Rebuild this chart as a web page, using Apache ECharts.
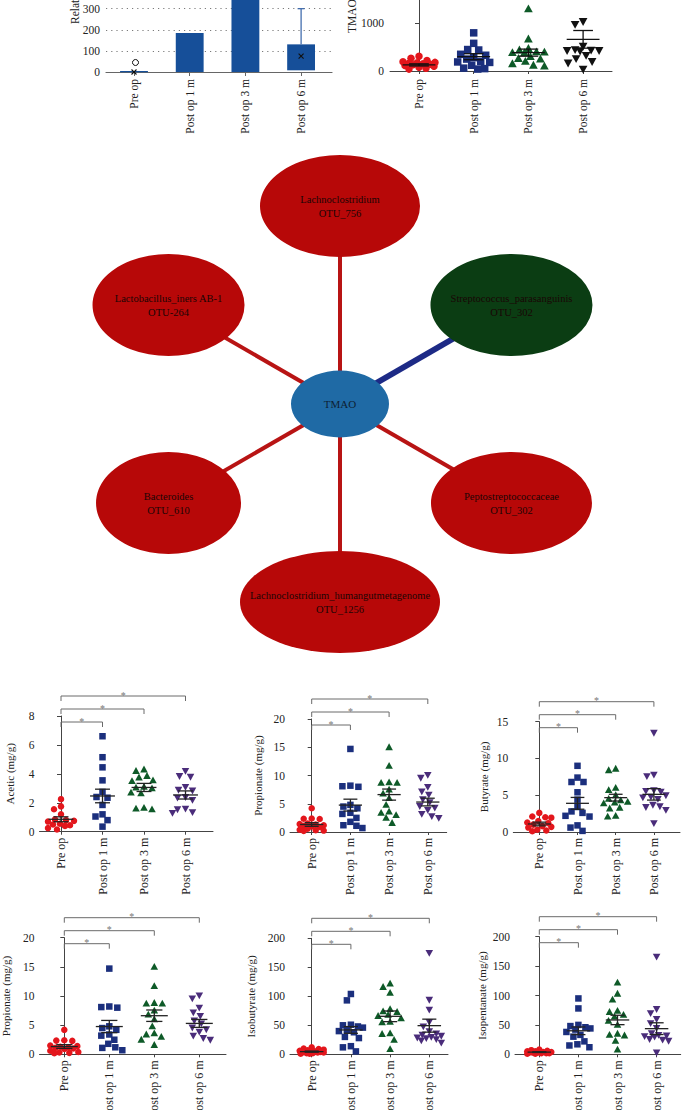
<!DOCTYPE html>
<html><head><meta charset="utf-8">
<script src="https://cdn.jsdelivr.net/npm/echarts@6/dist/echarts.min.js"></script>
<style>html,body{margin:0;padding:0;background:#fff}#c{width:682px;height:1110px}</style>
</head><body><div id="c"></div>
<script>
// ---------------- DATA ----------------
const groups = ['Pre op', 'Post op 1 m', 'Post op 3 m', 'Post op 6 m'];

// Relative abundance box chart
const boxLow = [0, 0, 0, 8];
const boxHigh = [5, 185, 430, 131];
const whiskerHigh = [null, null, null, 300];
const boxMean = [0, null, null, 75];
const boxOutliers = [[0, 45]];
const boxTicks = [0, 100, 200, 300, 400, 500];

// TMAO
const tmaoPre = [310, 265, 220, 195, 180, 170, 160, 150, 140, 130, 115, 100, 80, 60, 40];
const tmao1m = [800, 580, 450, 440, 350, 330, 280, 250, 200, 190, 180, 120, 60, 50, 40];
const tmao3m = [1300, 670, 470, 440, 400, 395, 385, 380, 300, 260, 250, 200, 150, 120, 100];
const tmao6m = [1040, 980, 520, 450, 440, 430, 430, 420, 330, 260, 200, 170, 40];
const tmaoMean = [128, 300, 385, 664];
const tmaoSem = [22, 63, 74, 185];

// Network
const netCenter = 'TMAO';
const netTaxa = ['Lachnoclostridium', 'Lactobacillus_iners AB-1', 'Bacteroides', 'Lachnoclostridium_humangutmetagenome', 'Peptostreptococcaceae', 'Streptococcus_parasanguinis'];
const netOtus = ['OTU_756', 'OTU-264', 'OTU_610', 'OTU_1256', 'OTU_302', 'OTU_302'];
const netSign = [1, 1, 1, 1, 1, -1];

// SCFA
const aceticPre = [2.25, 1.55, 1.75, 1.2, 0.85, 0.8, 0.75, 0.7, 0.55, 0.5, 0.45, 0.4, 0.25, 0.15];
const acetic1m = [6.6, 5.15, 4.45, 3.55, 2.75, 2.4, 2.35, 1.85, 1.2, 1.05, 0.8, 0.35];
const acetic3m = [4.3, 4.2, 3.85, 3.75, 3.55, 3.5, 3.1, 3.05, 3.0, 2.7, 2.65, 1.65, 1.6, 1.55];
const acetic6m = [4.2, 3.85, 3.8, 3.1, 2.9, 2.85, 2.4, 2.35, 2.2, 1.6, 1.55, 1.35, 1.3];
const aceticMean = [0.86, 2.47, 3.06, 2.54];
const aceticSem = [0.17, 0.47, 0.28, 0.28];

const propPre = [4.2, 2.4, 2.35, 2.3, 1.5, 1.4, 1.3, 1.2, 1.1, 1.0, 0.9, 0.6, 0.4, 0.3, 0.25, 0.2];
const prop1m = [14.7, 8.2, 8.1, 8.0, 4.8, 4.5, 4.2, 3.4, 3.2, 2.5, 1.8, 1.2, 1.1, 0.7];
const prop3m = [15.0, 11.7, 8.8, 8.7, 8.7, 7.5, 6.8, 6.0, 4.8, 3.6, 3.4, 3.0, 2.5, 1.6];
const prop6m = [10.1, 9.6, 8.0, 7.2, 6.6, 5.8, 5.3, 4.6, 4.3, 3.9, 3.2, 2.8, 2.5];
const propMean = [1.33, 4.76, 6.62, 5.3];
const propSem = [0.32, 1.05, 0.98, 0.68];

const butPre = [2.6, 2.1, 2.0, 1.95, 1.5, 1.3, 1.2, 1.0, 0.8, 0.7, 0.6, 0.3, 0.2, 0.1];
const but1m = [9.0, 7.4, 6.8, 6.8, 5.4, 4.4, 3.4, 2.8, 2.6, 2.2, 2.1, 0.9, 0.6, 0.15];
const but3m = [8.6, 8.4, 6.0, 5.7, 5.0, 4.5, 4.3, 4.1, 4.0, 3.9, 3.3, 3.2, 2.2, 2.1];
const but6m = [13.5, 7.8, 7.6, 5.7, 5.6, 5.5, 5.0, 4.8, 4.7, 4.5, 3.7, 3.5, 3.4, 3.0, 1.2];
const butMean = [1.09, 3.9, 4.67, 5.12];
const butSem = [0.25, 0.8, 0.46, 0.78];

const isoBPre = [12, 10, 9, 8, 7, 6, 5, 5, 4, 4, 3, 3, 2, 2, 1, 1];
const isoB1m = [104, 93, 51, 50, 48, 46, 42, 40, 38, 30, 28, 14, 12, 5];
const isoB3m = [122, 116, 106, 78, 74, 73, 68, 66, 62, 56, 55, 36, 35, 25, 9];
const isoB6m = [175, 94, 77, 56, 48, 40, 36, 34, 32, 30, 29, 28, 26, 24, 20];
const isoBMean = [4.6, 42, 65.5, 49.4];
const isoBSem = [1, 5.8, 9.2, 11.2];

const isoPPre = [8, 7, 6, 5, 5, 4, 4, 3, 3, 3, 2, 2, 2, 1, 1];
const isoP1m = [95, 78, 50, 48, 46, 44, 42, 38, 33, 30, 22, 17, 15, 12];
const isoP3m = [122, 103, 93, 74, 72, 67, 64, 57, 50, 35, 33, 32, 23, 8];
const isoP6m = [166, 77, 70, 60, 53, 45, 36, 33, 32, 31, 30, 26, 25, 23, 3];
const isoPMean = [3.7, 40, 58.4, 43.6];
const isoPSem = [0.6, 6.5, 8, 10];

const sigPairs = [[0, 1], [0, 2], [0, 3]];
const sigLabels = ['*', '*', '*'];

// ---------------- STYLE / LAYOUT ----------------
const SERIF = '"Liberation Serif","DejaVu Serif","Times New Roman",serif';
const AX = '#444', TXT = '#222';
const RED = '#e3161c', NAVY = '#1b2f7d', GREEN = '#0e5a28', PURPLE = '#4a2c7a';

const scfaPanels = [
  {name: 'Acetic (mg/g)', vals: [aceticPre, acetic1m, acetic3m, acetic6m], mean: aceticMean, sem: aceticSem, max: 8, interval: 2, left: 39.5, right: 213, top: 716, bottom: 831.7, first: 61, spacing: 41.5, gap: 24},
  {name: 'Propionate (mg/g)', vals: [propPre, prop1m, prop3m, prop6m], mean: propMean, sem: propSem, max: 20, interval: 5, left: 290, right: 446.7, top: 719, bottom: 832, first: 311.7, spacing: 38.7, gap: 27},
  {name: 'Butyrate (mg/g)', vals: [butPre, but1m, but3m, but6m], mean: butMean, sem: butSem, max: 15, interval: 5, left: 513.3, right: 680, top: 721.7, bottom: 832, first: 539.3, spacing: 38.2, gap: 24},
  {name: 'Propionate (mg/g)', vals: [propPre, prop1m, prop3m, prop6m], mean: propMean, sem: propSem, max: 20, interval: 5, left: 39.5, right: 226, top: 937.7, bottom: 1054.3, first: 64.3, spacing: 45, gap: 28},
  {name: 'Isobutyrate (mg/g)', vals: [isoBPre, isoB1m, isoB3m, isoB6m], mean: isoBMean, sem: isoBSem, max: 200, interval: 50, left: 290, right: 448, top: 938.3, bottom: 1054.3, first: 311.7, spacing: 39.2, gap: 34},
  {name: 'Isopentanate (mg/g)', vals: [isoPPre, isoP1m, isoP3m, isoP6m], mean: isoPMean, sem: isoPSem, max: 200, interval: 50, left: 515, right: 680.7, top: 936.7, bottom: 1054.3, first: 539.3, spacing: 39.1, gap: 28}
];
const scfaShapes = ['circle', 'square', 'triangle', 'triangleDown'];
const scfaColors = [RED, NAVY, GREEN, PURPLE];
const tmaoColors = [RED, NAVY, GREEN, '#111'];
const bracketOffsets = [6, -7, -20];
const netNodeW = [160, 152, 145, 200, 161, 162];
const netNodeH = 102;

// ---------------- HELPERS ----------------
function gridBox(left, top, width, height) {
  return {left, top, width, height, containLabel: false, outerBoundsMode: 'none'};
}
function catAxis(gi, min, max, margin) {
  return {
    gridIndex: gi, type: 'value', min, max,
    axisLine: {show: true, onZero: false, lineStyle: {color: AX, width: 1}},
    axisTick: {show: true, customValues: [0, 1, 2, 3], length: 3, lineStyle: {color: AX}},
    axisLabel: {show: true, customValues: [0, 1, 2, 3], formatter: v => groups[Math.round(v)] || '', rotate: 90, margin: margin, fontFamily: SERIF, fontSize: 12, color: TXT},
    splitLine: {show: false}
  };
}
function swarmOffsets(ys, size, maxHalf) {
  const order = ys.map((y, i) => i).sort((a, b) => ys[a] - ys[b]);
  const placed = [];
  const off = new Array(ys.length).fill(0);
  const thr = size * 1.1;
  const cands = [0];
  for (let d = 1; d <= Math.floor(maxHalf); d++) cands.push(-d, d);
  for (const i of order) {
    let best = 0, bestD = -1;
    for (const c of cands) {
      let md = Infinity;
      for (const p of placed) {
        const dx = p[0] - c, dy = p[1] - ys[i];
        const d = Math.sqrt(dx * dx + dy * dy);
        if (d < md) md = d;
      }
      if (md >= thr) { best = c; break; }
      if (md > bestD) { bestD = md; best = c; }
    }
    off[i] = best;
    placed.push([best, ys[i]]);
  }
  return off;
}
function shapeEl(shape, x, y, s, color) {
  const st = {fill: color};
  if (shape === 'circle') return {type: 'circle', shape: {cx: x, cy: y, r: s / 2}, style: st};
  if (shape === 'square') return {type: 'rect', shape: {x: x - s / 2, y: y - s / 2, width: s, height: s}, style: st};
  const hw = s * 0.58;
  if (shape === 'triangle') return {type: 'polygon', shape: {points: [[x, y - s * 0.6], [x - hw, y + s * 0.45], [x + hw, y + s * 0.45]]}, style: st};
  return {type: 'polygon', shape: {points: [[x, y + s * 0.6], [x - hw, y - s * 0.45], [x + hw, y - s * 0.45]]}, style: st};
}
function markerSeries(gi, gIdx, values, shape, color, size, halfFrac) {
  return {
    type: 'custom', xAxisIndex: gi, yAxisIndex: gi, z: 3, clip: false, silent: true,
    data: values.map(v => [gIdx, v]),
    renderItem: function (params, api) {
      const pts = values.map(v => api.coord([gIdx, v]));
      const w = api.size([1, 0])[0];
      const offs = swarmOffsets(pts.map(p => p[1]), size, w * halfFrac);
      const p = pts[params.dataIndex];
      return shapeEl(shape, p[0] + offs[params.dataIndex], p[1], size, color);
    }
  };
}
function meanSeries(gi, means, sems, hm, hs, color) {
  return {
    type: 'custom', xAxisIndex: gi, yAxisIndex: gi, z: 4, clip: false, silent: true,
    data: means.map((m, i) => [i, m, sems[i]]),
    renderItem: function (params, api) {
      const i = api.value(0), m = api.value(1), s = api.value(2);
      const c = api.coord([i, m]), hi = api.coord([i, m + s]), lo = api.coord([i, m - s]);
      const w = api.size([1, 0])[0];
      const L = (x1, y1, x2, y2) => ({type: 'line', shape: {x1, y1, x2, y2}, style: {stroke: color, lineWidth: 1.3}});
      return {type: 'group', children: [
        L(c[0] - w * hm, c[1], c[0] + w * hm, c[1]),
        L(c[0] - w * hs, hi[1], c[0] + w * hs, hi[1]),
        L(c[0] - w * hs, lo[1], c[0] + w * hs, lo[1]),
        L(c[0], hi[1], c[0], lo[1])
      ]};
    }
  };
}
function bracketSeries(gi, yMax) {
  return {
    type: 'custom', xAxisIndex: gi, yAxisIndex: gi, z: 5, clip: false, silent: true,
    data: sigPairs.map((p, k) => [p[0], p[1], k]),
    renderItem: function (params, api) {
      const a = api.value(0), b = api.value(1), k = api.value(2);
      const top = api.coord([0, yMax])[1];
      const yb = top + bracketOffsets[k];
      const xa = api.coord([a, 0])[0], xb = api.coord([b, 0])[0];
      return {type: 'group', children: [
        {type: 'polyline', shape: {points: [[xa, yb + 5], [xa, yb], [xb, yb], [xb, yb + 5]]}, style: {stroke: '#6a6a6a', fill: null, lineWidth: 1}},
        {type: 'text', style: {text: sigLabels[k], x: (xa + xb) / 2, y: yb - 1, align: 'center', verticalAlign: 'middle', fill: '#777', font: '10px ' + SERIF}}
      ]};
    }
  };
}

// ---------------- OPTION ----------------
const grids = [], xAxes = [], yAxes = [], series = [];

// Grid 0: box chart
const bxLeft = 106, bxRight = 332, bxZero = 72, bxPer100 = 21.1, bxFirst = 134, bxSp = 55.7;
const bxMax = boxTicks[boxTicks.length - 1];
grids.push(gridBox(bxLeft, bxZero - bxMax / 100 * bxPer100, bxRight - bxLeft, bxMax / 100 * bxPer100));
(function () {
  const mn = -(bxFirst - bxLeft) / bxSp;
  const ax = catAxis(0, mn, mn + (bxRight - bxLeft) / bxSp, 7);
  ax.axisLine.lineStyle = {color: '#666', width: 1.2};
  ax.axisTick.length = 4; ax.axisTick.lineStyle = {color: '#666'};
  ax.axisLabel.fontSize = 11.5;
  xAxes.push(ax);
})();
yAxes.push({gridIndex: 0, type: 'value', min: 0, max: bxMax, interval: 100,
  axisLine: {show: false}, axisTick: {show: false},
  axisLabel: {fontFamily: SERIF, fontSize: 11.5, color: TXT, margin: 6},
  splitLine: {show: true, lineStyle: {color: '#7a7a7a', width: 1.2, type: [1.2, 4]}}});
series.push({
  type: 'custom', xAxisIndex: 0, yAxisIndex: 0, z: 3, silent: true,
  data: groups.map((g, i) => [i, boxHigh[i]]),
  renderItem: function (params, api) {
    const i = params.dataIndex;
    const lo = api.coord([i, boxLow[i]]), hi = api.coord([i, boxHigh[i]]);
    const bw = api.size([1, 0])[0] * 0.5;
    const ch = [{type: 'rect', shape: {x: lo[0] - bw / 2, y: hi[1], width: bw, height: Math.max(1.2, lo[1] - hi[1])}, style: {fill: '#164f99'}}];
    if (whiskerHigh[i] != null) {
      const w = api.coord([i, whiskerHigh[i]]);
      ch.push({type: 'line', shape: {x1: hi[0], y1: hi[1], x2: w[0], y2: w[1]}, style: {stroke: '#3463a8', lineWidth: 1.2}});
      ch.push({type: 'line', shape: {x1: w[0] - 3.5, y1: w[1], x2: w[0] + 3.5, y2: w[1]}, style: {stroke: '#3463a8', lineWidth: 1.2}});
    }
    if (boxMean[i] != null) {
      const m = api.coord([i, boxMean[i]]);
      ch.push({type: 'line', shape: {x1: m[0] - 2.5, y1: m[1] - 2.5, x2: m[0] + 2.5, y2: m[1] + 2.5}, style: {stroke: '#111', lineWidth: 1.1}});
      ch.push({type: 'line', shape: {x1: m[0] - 2.5, y1: m[1] + 2.5, x2: m[0] + 2.5, y2: m[1] - 2.5}, style: {stroke: '#111', lineWidth: 1.1}});
    }
    boxOutliers.filter(o => o[0] === i).forEach(o => {
      const p = api.coord([o[0], o[1]]);
      ch.push({type: 'circle', shape: {cx: p[0] + 1.5, cy: p[1], r: 3}, style: {fill: 'none', stroke: '#111', lineWidth: 1}});
    });
    return {type: 'group', children: ch};
  }
});

// Grid 1: TMAO
const tmLeft = 390, tmRight = 612, tmZero = 71, tmPer1000 = 47.7, tmFirst = 419, tmSp = 54.7, tmMax = 2000;
grids.push(gridBox(tmLeft, tmZero - tmMax / 1000 * tmPer1000, tmRight - tmLeft, tmMax / 1000 * tmPer1000));
(function () {
  const mn = -(tmFirst - tmLeft) / tmSp;
  const ax = catAxis(1, mn, mn + (tmRight - tmLeft) / tmSp, 8);
  ax.axisLabel.fontSize = 11.5;
  xAxes.push(ax);
})();
yAxes.push({gridIndex: 1, type: 'value', min: 0, max: tmMax, interval: 1000,
  axisLine: {show: true, lineStyle: {color: AX}}, axisTick: {show: true, length: 4, lineStyle: {color: AX}},
  axisLabel: {fontFamily: SERIF, fontSize: 11.5, color: TXT, margin: 6, formatter: v => String(v)}, splitLine: {show: false}});
[tmaoPre, tmao1m, tmao3m, tmao6m].forEach((vals, g) => series.push(markerSeries(1, g, vals, scfaShapes[g], tmaoColors[g], 7.5, 0.3)));
series.push(meanSeries(1, tmaoMean, tmaoSem, 0.3, 0.18, '#111'));

// Grid 2: network (pixel space)
grids.push(gridBox(0, 0, 682, 1110));
xAxes.push({gridIndex: 2, type: 'value', min: 0, max: 682, show: false});
yAxes.push({gridIndex: 2, type: 'value', min: 0, max: 1110, inverse: true, show: false});
(function () {
  const cx = 340, cy = 404, r = 198;
  const nodes = [{name: netCenter, value: [cx, cy], symbolSize: [98, 67], itemStyle: {color: '#1f6aa5'},
    label: {show: true, position: 'inside', formatter: netCenter, color: '#0d1e33', fontFamily: SERIF, fontSize: 11}}];
  const links = [];
  netTaxa.forEach((t, i) => {
    const ang = (90 + 60 * i) * Math.PI / 180;
    nodes.push({name: t + ' ' + netOtus[i] + ' ' + i, value: [cx + r * Math.cos(ang), cy - r * Math.sin(ang)],
      symbolSize: [netNodeW[i], netNodeH],
      itemStyle: {color: netSign[i] > 0 ? '#b70808' : '#0b3d13'},
      label: {show: true, position: 'inside', formatter: t + '\n' + netOtus[i], color: '#1a0505', fontFamily: SERIF, fontSize: 10.5, lineHeight: 14}});
    links.push({source: 0, target: i + 1, lineStyle: {color: netSign[i] > 0 ? '#b81414' : '#1d2a86', width: netSign[i] > 0 ? 4 : 6, opacity: 1, curveness: 0}});
  });
  series.push({type: 'graph', coordinateSystem: 'cartesian2d', xAxisIndex: 2, yAxisIndex: 2, layout: 'none',
    symbol: 'circle', data: nodes, links: links, silent: true, z: 2, emphasis: {disabled: true}});
})();

// Grids 3..8: SCFA panels
scfaPanels.forEach((p, k) => {
  const gi = 3 + k;
  grids.push(gridBox(p.left, p.top, p.right - p.left, p.bottom - p.top));
  const mn = -(p.first - p.left) / p.spacing;
  xAxes.push(catAxis(gi, mn, mn + (p.right - p.left) / p.spacing, 6));
  yAxes.push({gridIndex: gi, type: 'value', min: 0, max: p.max, interval: p.interval,
    axisLine: {show: true, lineStyle: {color: AX}}, axisTick: {show: true, length: 4, lineStyle: {color: AX}},
    axisLabel: {fontFamily: SERIF, fontSize: 11.5, color: TXT, margin: 5}, splitLine: {show: false},
    name: p.name, nameLocation: 'middle', nameGap: p.gap, nameRotate: 90,
    nameTextStyle: {fontFamily: SERIF, fontSize: 11, color: TXT}});
  p.vals.forEach((vals, g) => series.push(markerSeries(gi, g, vals, scfaShapes[g], scfaColors[g], 6.5, 0.33)));
  series.push(meanSeries(gi, p.mean, p.sem, 0.3, 0.18, '#222'));
  series.push(bracketSeries(gi, p.max));
});

const option = {
  animation: false,
  backgroundColor: '#fff',
  grid: grids, xAxis: xAxes, yAxis: yAxes, series: series,
  graphic: [
    {type: 'text', x: 75, y: 24, rotation: Math.PI / 2, style: {text: 'Relative abundance (%)', font: '11.5px ' + SERIF, fill: TXT, align: 'left', verticalAlign: 'middle'}},
    {type: 'text', x: 352, y: 33, rotation: Math.PI / 2, style: {text: 'TMAO (ng/mL)', font: '11.5px ' + SERIF, fill: TXT, align: 'left', verticalAlign: 'middle'}}
  ]
};
const chart = echarts.init(document.getElementById('c'), null, {renderer: 'svg'});
chart.setOption(option);
</script>
</body></html>
